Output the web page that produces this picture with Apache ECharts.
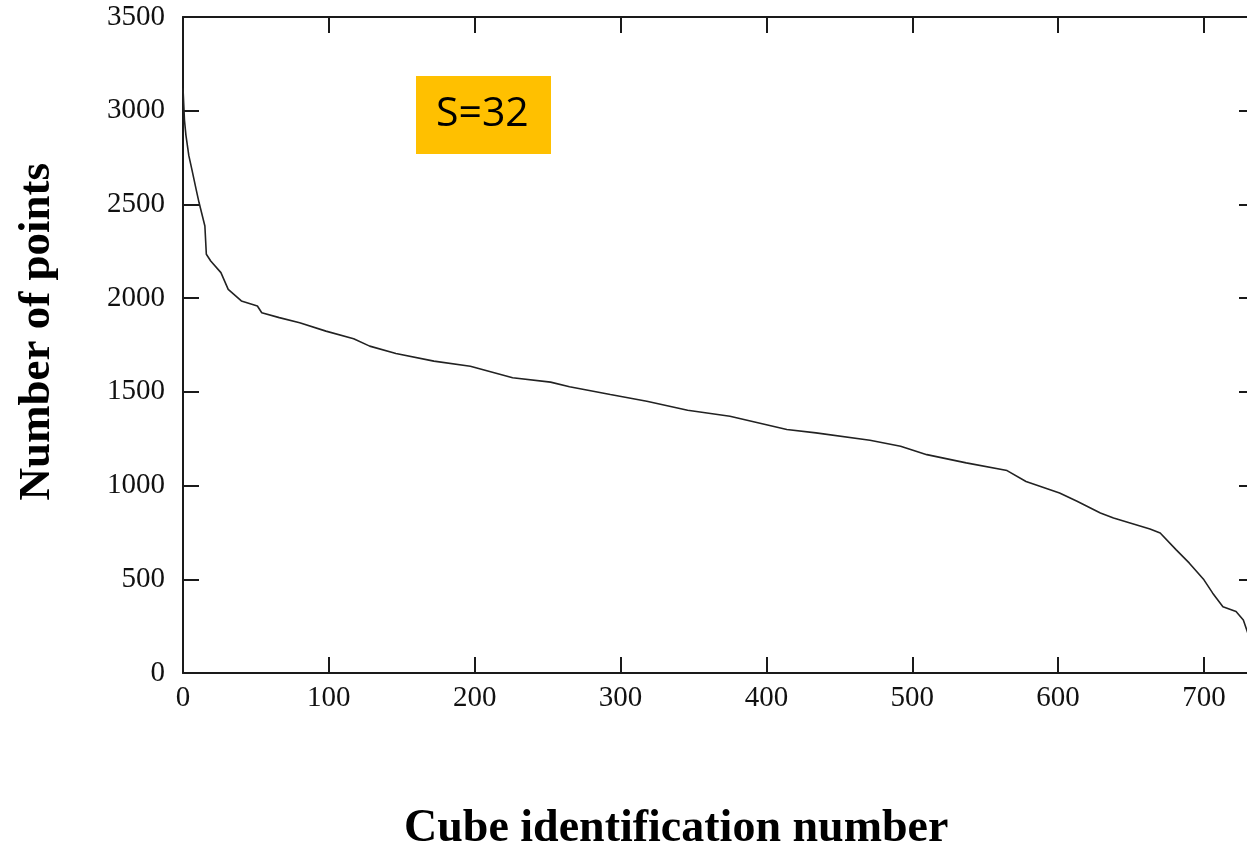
<!DOCTYPE html>
<html>
<head>
<meta charset="utf-8">
<script src="https://cdn.jsdelivr.net/npm/echarts@6/dist/echarts.min.js"></script>
<style>html,body{margin:0;padding:0;background:#fff;overflow:hidden;width:1247px;height:852px;}#chart{width:1265px;height:852px;}</style>
</head>
<body>
<div id="chart"></div>
<script>
const cubeIds = [0,1,2,4,6,9,11,15,16,19,26,31,40,51,54,66,80,98,117,128,146,172,197,226,252,265,293,318,346,375,414,434,471,492,510,537,565,578,601,613,629,638,663,670,681,690,700,706,713,722,727,730];
const pointCounts = [3120,2950,2870,2760,2690,2580,2510,2385,2234,2198,2136,2047,1985,1958,1922,1896,1869,1824,1783,1744,1705,1664,1637,1575,1552,1527,1486,1450,1402,1370,1299,1281,1242,1210,1165,1121,1080,1022,960,916,854,827,768,747,657,586,497,426,354,328,283,215];
const xTickStep = 100;
const yTickStep = 500;
const xMax = 735;
const yMax = 3500;
const xTitle = 'Cube identification number';
const yTitle = 'Number of points';
const annotation = 'S=32';

const chart = echarts.init(document.getElementById('chart'), null, {renderer:'canvas'});
const axisColor = '#1a1a1a';
const labelFont = {fontFamily:'"Liberation Serif", "DejaVu Serif", serif', fontSize:29, color:'#111', formatter:(v)=>String(v)};
const commonAxis = {
  axisLine:{show:true, onZero:false, lineStyle:{color:axisColor, width:2}},
  axisTick:{show:true, inside:true, length:16, lineStyle:{color:axisColor, width:2}},
  splitLine:{show:false}
};
chart.setOption({
  animation:false,
  backgroundColor:'#ffffff',
  grid:{left:183, top:17, width:1072, height:656, containLabel:false},
  xAxis:[
    Object.assign({type:'value', min:0, max:xMax, interval:xTickStep, position:'bottom',
      axisLabel:Object.assign({margin:11, showMaxLabel:false}, labelFont)}, commonAxis),
    Object.assign({type:'value', min:0, max:xMax, interval:xTickStep, position:'top',
      axisLabel:{show:false}}, commonAxis)
  ],
  yAxis:[
    Object.assign({type:'value', min:0, max:yMax, interval:yTickStep, position:'left',
      axisLabel:Object.assign({margin:18}, labelFont)}, commonAxis),
    Object.assign({type:'value', min:0, max:yMax, interval:yTickStep, position:'right',
      axisLabel:{show:false}}, commonAxis)
  ],
  series:[{
    type:'line',
    data:cubeIds.map((x,i)=>[x, pointCounts[i]]),
    showSymbol:false,
    smooth:false,
    lineStyle:{color:'#222222', width:1.6},
    clip:true
  }],
  graphic:[
    {type:'rect', left:416, top:76, shape:{width:135, height:78}, style:{fill:'#FFC000'}},
    {type:'text', left:436, top:94, style:{text:annotation, font:'41px "Open Sans", "Noto Sans", sans-serif', fill:'#000'}},
    {type:'text', left:404, top:806, style:{text:xTitle, font:'bold 46px "Liberation Serif", "DejaVu Serif", serif', fill:'#000'}},
    {type:'text', left:15, top:163, rotation:Math.PI/2, style:{text:yTitle, font:'bold 45px "Liberation Serif", "DejaVu Serif", serif', fill:'#000'}}
  ]
});
</script>
</body>
</html>
